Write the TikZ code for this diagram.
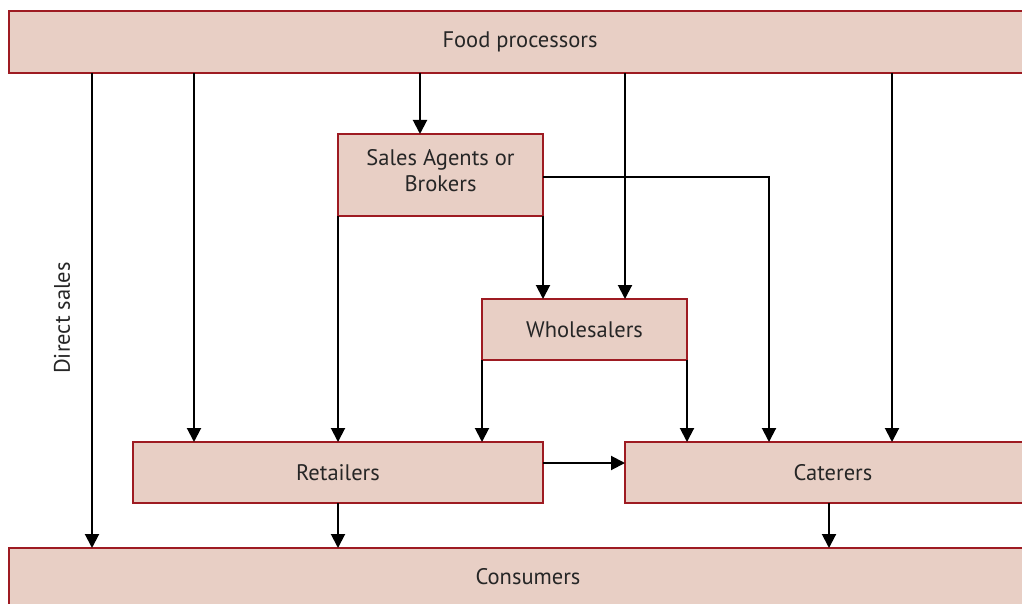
\documentclass[tikz,border=0pt]{standalone}
\usepackage{fontspec}
\setmainfont{PT Sans}
\usetikzlibrary{arrows.meta}
\definecolor{boxfill}{HTML}{E8CFC5}
\definecolor{boxdraw}{HTML}{9E1B22}
\begin{document}
\begin{tikzpicture}[x=1pt,y=-1pt,
  box/.style={draw=boxdraw,fill=boxfill,line width=2pt,inner sep=0pt},
  lab/.style={font=\fontsize{22.5}{26}\selectfont,text=black!85,align=center},
  arr/.style={line width=2pt,-{Triangle[length=14pt,width=14pt]}},
  ln/.style={line width=2pt}]
\useasboundingbox (0,0) rectangle (1022,604);
\clip (0,0) rectangle (1022,604);
% boxes
\draw[box] (9,11) rectangle (1040,73);
\node[lab] (fp) at (520,42) {Food processors};
\draw[box] (338,134) rectangle (543,216);
\node[lab] (sa) at (440.5,171) {Sales Agents or\\Brokers};
\draw[box] (482,299) rectangle (687,360);
\node[lab] (wh) at (584.5,330) {Wholesalers};
\draw[box] (133,442) rectangle (543,503);
\node[lab] (re) at (338,473) {Retailers};
\draw[box] (625,442) rectangle (1040,503);
\node[lab] (ca) at (833,473) {Caterers};
\draw[box] (9,548) rectangle (1040,620);
\node[lab] (co) at (528,577) {Consumers};
% connector anchor points
\coordinate (fp1) at (92,73);   \coordinate (co1) at (92,548);
\coordinate (fp2) at (194,73);  \coordinate (re1) at (194,442);
\coordinate (fp3) at (420,73);  \coordinate (sa1) at (420,134);
\coordinate (fp4) at (625,73);  \coordinate (wh1) at (625,299);
\coordinate (fp5) at (892,73);  \coordinate (ca1) at (892,442);
\coordinate (sa2) at (338,216); \coordinate (re2) at (338,442);
\coordinate (sa3) at (543,216); \coordinate (wh2) at (543,299);
\coordinate (sa4) at (543,177); \coordinate (ca2) at (769,442);
\coordinate (wh3) at (482,360); \coordinate (re3) at (482,442);
\coordinate (wh4) at (687,360); \coordinate (ca3) at (687,442);
\coordinate (re4) at (543,463); \coordinate (ca4) at (625,463);
\coordinate (re5) at (338,503); \coordinate (co2) at (338,548);
\coordinate (ca5) at (829,503); \coordinate (co3) at (829,548);
% connectors
\draw[arr] (fp1) -- (co1);
\node[lab,rotate=90] (ds) at (62,318) {Direct sales};
\draw[arr] (fp2) -- (re1);
\draw[arr] (fp3) -- (sa1);
\draw[arr] (fp4) -- (wh1);
\draw[arr] (fp5) -- (ca1);
\draw[arr] (sa2) -- (re2);
\draw[arr] (sa3) -- (wh2);
\draw[arr] (sa4) -| (ca2);
\draw[arr] (wh3) -- (re3);
\draw[arr] (wh4) -- (ca3);
\draw[arr] (re4) -- (ca4);
\draw[arr] (re5) -- (co2);
\draw[arr] (ca5) -- (co3);
\end{tikzpicture}
\end{document}
